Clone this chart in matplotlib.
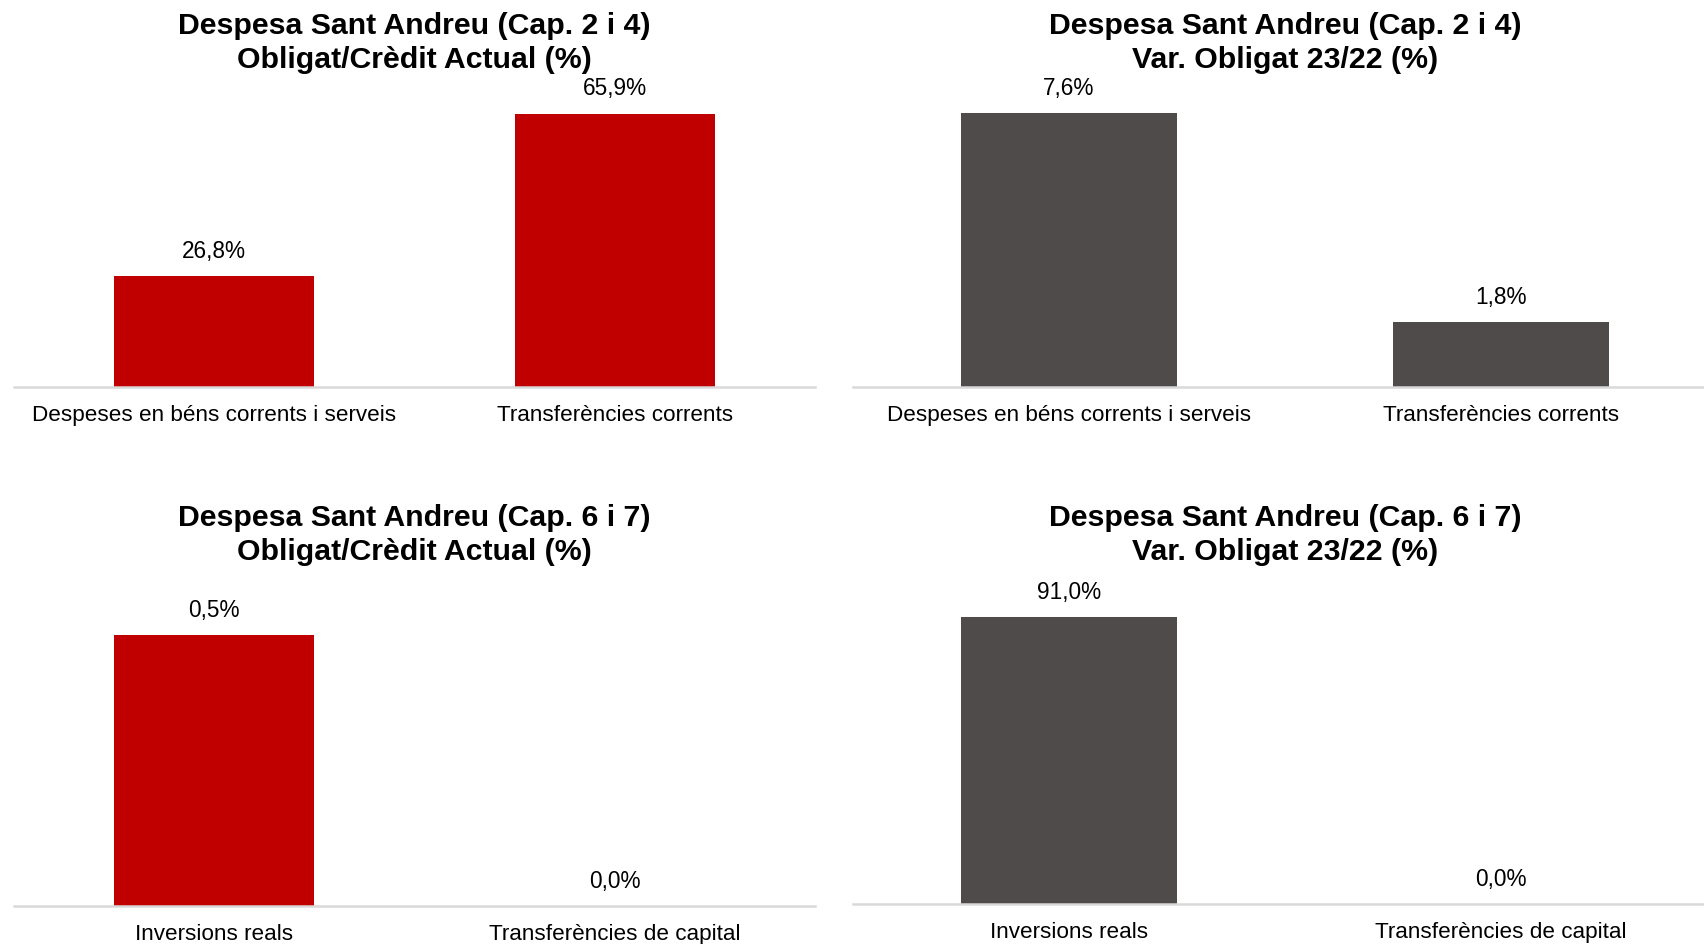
import matplotlib
matplotlib.use('Agg')
import matplotlib.pyplot as plt

plt.rcParams['font.family'] = ['Liberation Sans', 'DejaVu Sans']

# dades
cat_24 = ['Despeses en béns corrents i serveis', 'Transferències corrents']
cat_67 = ['Inversions reals', 'Transferències de capital']
oblig_credit_24 = [26.8, 65.9]
var_oblig_24 = [7.6, 1.8]
oblig_credit_67 = [0.5, 0.0]
var_oblig_67 = [91.0, 0.0]

titles = [
    'Despesa Sant Andreu (Cap. 2 i 4)\nObligat/Crèdit Actual (%)',
    'Despesa Sant Andreu (Cap. 2 i 4)\nVar. Obligat 23/22 (%)',
    'Despesa Sant Andreu (Cap. 6 i 7)\nObligat/Crèdit Actual (%)',
    'Despesa Sant Andreu (Cap. 6 i 7)\nVar. Obligat 23/22 (%)',
]

red = '#C00000'
grey = '#4F4B4B'

W, H = 1704, 944
fig = plt.figure(figsize=(W / 100, H / 100), dpi=100)


def px_axes(x0, x1, ytop, ybot):
    return fig.add_axes([x0 / W, 1 - ybot / H, (x1 - x0) / W, (ybot - ytop) / H])


panels = [
    # (x0, x1, ytop, ybot, ymax, cats, vals, color, title, title_y)
    (14, 815, 100, 387, 69.2, cat_24, oblig_credit_24, red, titles[0], 43),
    (853, 1717, 100, 387, 7.97, cat_24, var_oblig_24, grey, titles[1], 43),
    (14, 815, 600, 906, 0.565, cat_67, oblig_credit_67, red, titles[2], 535),
    (853, 1717, 600, 904, 96.4, cat_67, var_oblig_67, grey, titles[3], 535),
]

for x0, x1, yt, yb, ymax, cats, vals, col, title, ty in panels:
    ax = px_axes(x0, x1, yt, yb)
    xs = range(len(cats))
    ax.bar(xs, vals, width=0.5, color=col)
    ax.set_xlim(-0.5, 1.5)
    ax.set_ylim(0, ymax)
    for x, v in zip(xs, vals):
        ax.annotate(('%.1f%%' % v).replace('.', ','), (x, v), xytext=(0, 9.5),
                    textcoords='offset points', ha='center', va='bottom',
                    fontsize=16.3, color='#000000')
    ax.set_xticks(list(xs))
    ax.set_xticklabels(cats, fontsize=16.2)
    ax.tick_params(axis='x', length=0, pad=13)
    ax.set_yticks([])
    for s in ['top', 'left', 'right']:
        ax.spines[s].set_visible(False)
    ax.spines['bottom'].set_color('#D9D9D9')
    ax.spines['bottom'].set_linewidth(1.8)
    ax.set_facecolor('none')
    cx = (x0 + x1) / 2
    fig.text(cx / W, 1 - ty / H, title, ha='center', va='center',
             fontsize=21.8, fontweight='bold', linespacing=1.27)

fig.savefig('out.png', dpi=100)
